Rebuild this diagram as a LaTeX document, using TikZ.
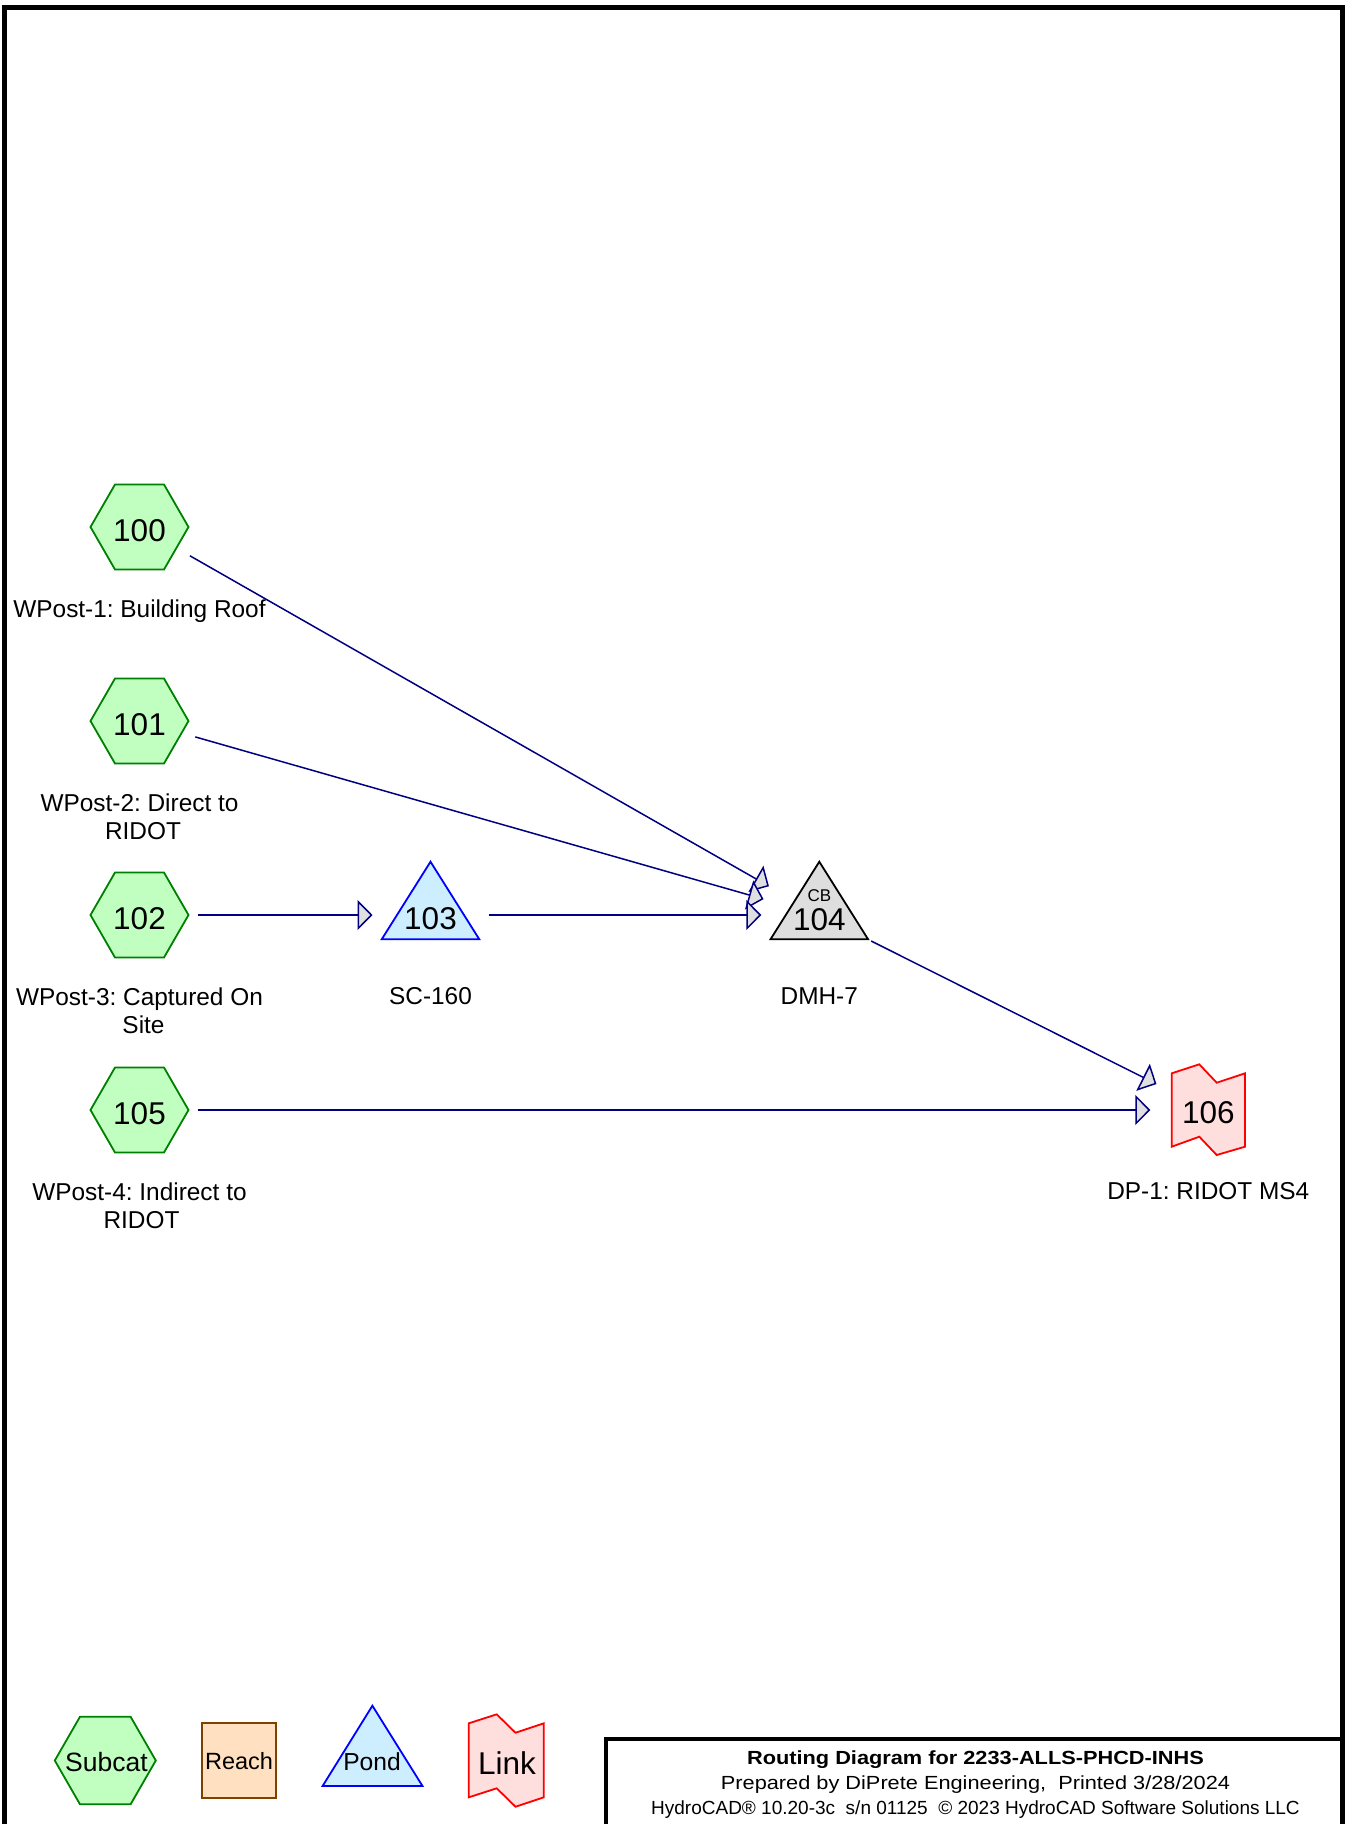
\documentclass[tikz,border=0pt]{standalone}
\usepackage{fontspec}
\usepackage{graphicx}
\setmainfont{Liberation Sans}
\usetikzlibrary{arrows.meta}
\pgfdeclarelayer{background}
\pgfsetlayers{background,main}
\definecolor{navy}{RGB}{0,0,128}
\definecolor{arrowgray}{RGB}{224,224,224}
\definecolor{subfill}{RGB}{192,255,192}
\definecolor{subdraw}{RGB}{0,128,0}
\definecolor{pondfill}{RGB}{204,238,255}
\definecolor{ponddraw}{RGB}{0,0,255}
\definecolor{cbfill}{RGB}{222,222,222}
\definecolor{linkfill}{RGB}{255,222,222}
\definecolor{linkdraw}{RGB}{255,0,0}
\definecolor{reachfill}{RGB}{255,224,192}
\definecolor{reachdraw}{RGB}{128,64,0}
\frenchspacing
\begin{document}
\begin{tikzpicture}[x=1pt,y=-1pt,
  hub/.style={circle, minimum size=116pt, inner sep=0pt, outer sep=0pt,
    font=\fontsize{31.5}{31.5}\selectfont, text height=28.7pt, text depth=0pt},
  lbl/.style={inner sep=0pt, anchor=north, align=center,
    font=\fontsize{24.4}{28.5}\selectfont},
  flow/.style={draw=navy, line width=1.5pt,
    -{Triangle[length=15pt,width=30pt,fill=arrowgray]}},
  subshape/.style={draw=subdraw, fill=subfill, line width=1.8pt, line join=miter},
  pondshape/.style={draw=ponddraw, fill=pondfill, line width=1.8pt},
  cbshape/.style={draw=black, fill=cbfill, line width=1.8pt},
  linkshape/.style={draw=linkdraw, fill=linkfill, line width=1.8pt},
  reachshape/.style={draw=reachdraw, fill=reachfill, line width=1.8pt},
  foot/.style={anchor=base, inner sep=0pt, font=\fontsize{19}{19}\selectfont}
]
\useasboundingbox (0,0) rectangle (1345,1824);

% main nodes
\node[hub] (n100) at (139.5,527) {100};
\node[hub] (n101) at (139.5,721) {101};
\node[hub] (n102) at (139.5,915) {102};
\node[hub] (n105) at (139.5,1110) {105};
\node[hub, text height=29.3pt] (n103) at (430.5,915) {103};
\node[hub, text height=31.1pt] (n104) at (819.3,915) {104};
\node[font=\fontsize{17}{17}\selectfont, inner sep=0pt] (cb104) at (819.3,895.5) {CB};
\node[hub, text height=27.7pt] (n106) at (1208.3,1110) {106};

% labels
\node[lbl] (l100) at (139.5,599.5) {WPost-1: Building Roof};
\node[lbl] (l101) at (139.5,793.5) {WPost-2: Direct to\\\hspace*{7pt}RIDOT};
\node[lbl] (l102) at (139.5,987.5) {WPost-3: Captured On\\\hspace*{8pt}Site};
\node[lbl] (l105) at (139.5,1182.5) {WPost-4: Indirect to\\\hspace*{4pt}RIDOT};
\node[lbl] (l103) at (430.5,987.5) {SC-160};
\node[lbl] (l104) at (819.3,987.5) {DMH-7};
\node[lbl] (l106) at (1208.3,1182.5) {DP-1: RIDOT MS4};

% connectors
\draw[flow] (n100) -- (n104);
\draw[flow] (n101) -- (n104);
\draw[flow] (n102) -- (n103);
\draw[flow] (n103) -- (n104);
\draw[flow] (n104) -- (n106);
\draw[flow] (n105) -- (n106);

% legend
\node[inner sep=0pt, font=\fontsize{26.5}{26.5}\selectfont] (lgsub) at (106.5,1762) {Subcat};
\node[inner sep=0pt, font=\fontsize{23.5}{23.5}\selectfont] (lgreach) at (239,1761.3) {Reach};
\node[inner sep=0pt, font=\fontsize{24.6}{24.6}\selectfont] (lgpond) at (372,1762) {Pond};
\node[inner sep=0pt, font=\fontsize{31.5}{31.5}\selectfont] (lglink) at (506.9,1763.3) {Link};

% footer
\node[foot, font=\fontsize{19}{19}\selectfont\bfseries] (f1) at (975.5,1764.7)
  {\scalebox{1.145}[1]{Routing Diagram for 2233-ALLS-PHCD-INHS}};
\node[foot] (f2) at (975.5,1789.3)
  {\scalebox{1.145}[1]{Prepared by DiPrete Engineering,\ \ Printed 3/28/2024}};
\node[foot] (f3) at (975.5,1814)
  {HydroCAD® 10.20-3c\ \ s/n 01125\ \ © 2023 HydroCAD Software Solutions LLC};

\begin{pgfonlayer}{background}
  \foreach \n in {n100,n101,n102,n105}
    \draw[subshape, shift={(\n.center)}] (-49,0) -- (-24.5,-42.5) -- (24.5,-42.5)
      -- (49,0) -- (24.5,42.5) -- (-24.5,42.5) -- cycle;
  \draw[pondshape, shift={(n103.center)}] (0,-53.3) -- (48.8,24.3) -- (-48.8,24.3) -- cycle;
  \draw[cbshape, shift={(n104.center)}] (0,-53.3) -- (48.8,24.3) -- (-48.8,24.3) -- cycle;
  \draw[linkshape, shift={(n106.center)}] (-36.6,-36.7) -- (-9,-45.7) -- (8.4,-27.3)
    -- (36.7,-36.7) -- (36.7,36.7) -- (8.4,45) -- (-9,26.7) -- (-36.6,36.7) -- cycle;
  % legend shapes
  \draw[subshape, shift={(105.3,1760.5)}] (-50.5,0) -- (-25.3,-43.8) -- (25.3,-43.8)
      -- (50.5,0) -- (25.3,43.8) -- (-25.3,43.8) -- cycle;
  \draw[reachshape] (201.7,1723.3) rectangle (276.3,1797.7);
  \draw[pondshape] (372.4,1705.7) -- (422.5,1786) -- (322.6,1786) -- cycle;
  \draw[linkshape, shift={(506.3,1760.3)}] (-37.5,-37) -- (-9.6,-46) -- (9.2,-27.6)
    -- (37.5,-37) -- (37.5,37) -- (9.2,46.4) -- (-9.6,28) -- (-37.5,37) -- cycle;
\end{pgfonlayer}

% frame
\draw[line width=5pt] (4,1830) -- (4,7.5) -- (1342.5,7.5) -- (1342.5,1830);
\draw[line width=4pt] (606.3,1830) -- (606.3,1739.3) -- (1342.5,1739.3);
\end{tikzpicture}
\end{document}
